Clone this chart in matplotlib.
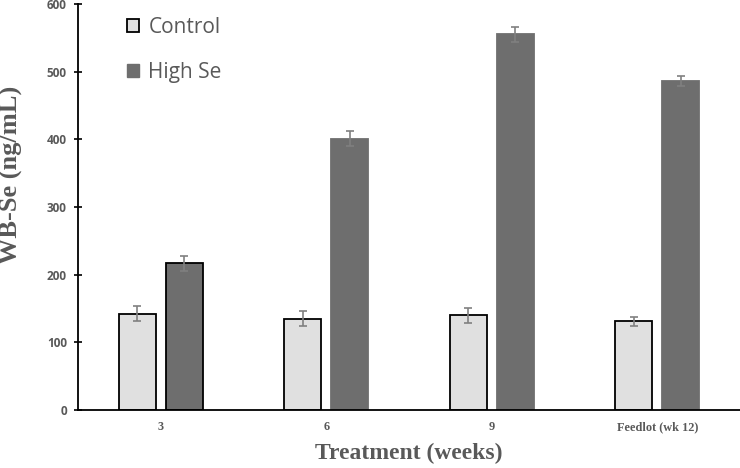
import matplotlib.pyplot as plt
import numpy as np
from matplotlib.patches import Patch

categories = ["3", "6", "9", "Feedlot (wk 12)"]
control = [142, 135, 140, 131]
control_err = [11, 11, 11, 7]
high_se = [217, 401, 555, 486]
high_se_err = [11, 11, 11, 7]

gray_txt = "#595959"

fig = plt.figure(figsize=(7.4, 4.68), dpi=100)
ax = fig.add_axes([0.1054, 0.124, 0.8946, 0.8675])

x = np.arange(len(categories))
w = 0.225
off = 0.142

ax.bar(x - off, control, w, color="#e0e0e0", edgecolor="black", linewidth=1.3, zorder=2)
ax.errorbar(x - off, control, yerr=control_err, fmt="none", ecolor="#808080",
            elinewidth=1.2, capsize=3, capthick=1.2, zorder=3)
edges = ["black"] + ["#6e6e6e"] * (len(categories) - 1)
ax.bar(x + off, high_se, w, color="#6e6e6e", edgecolor=edges, linewidth=1.3, zorder=2)
ax.errorbar(x + off, high_se, yerr=high_se_err, fmt="none", ecolor="#808080",
            elinewidth=1.2, capsize=3, capthick=1.2, zorder=3)

ax.set_xlim(-0.5, len(categories) - 0.5)
ax.set_ylim(0, 600)
ax.set_yticks(range(0, 601, 100))
ax.set_xticks(x)
ax.set_xticklabels(categories, family="Liberation Serif", fontweight="bold",
                   fontsize=8.8, color=gray_txt)
for lab in ax.get_yticklabels():
    lab.set_family("Open Sans")
    lab.set_fontweight("bold")
    lab.set_fontsize(8.5)
    lab.set_color(gray_txt)
ax.tick_params(axis="x", length=0, pad=8)
ax.tick_params(axis="y", direction="inout", length=6, width=1.2, pad=5)

for s in ["top", "right"]:
    ax.spines[s].set_visible(False)
ax.spines["left"].set_linewidth(1.3)
ax.spines["bottom"].set_linewidth(1.3)

ax.set_xlabel("Treatment (weeks)", family="Liberation Serif", fontweight="bold",
              fontsize=17, color=gray_txt, labelpad=7)
ax.set_ylabel("WB-Se (ng/mL)", family="Liberation Serif", fontweight="bold",
              fontsize=19, color=gray_txt)
ax.yaxis.set_label_coords(-0.083, 0.579)

handles = [Patch(facecolor="#e0e0e0", edgecolor="black", linewidth=1.3),
           Patch(facecolor="#6e6e6e", edgecolor="#6e6e6e")]
leg = ax.legend(handles, ["Control", "High Se"], loc="upper left",
                bbox_to_anchor=(0.045, 1.015), frameon=False,
                handlelength=0.6, handleheight=0.6, handletextpad=0.45,
                labelspacing=1.15, prop={"family": "Open Sans", "size": 15})
for t in leg.get_texts():
    t.set_color(gray_txt)

fig.savefig("out.png", dpi=100)
